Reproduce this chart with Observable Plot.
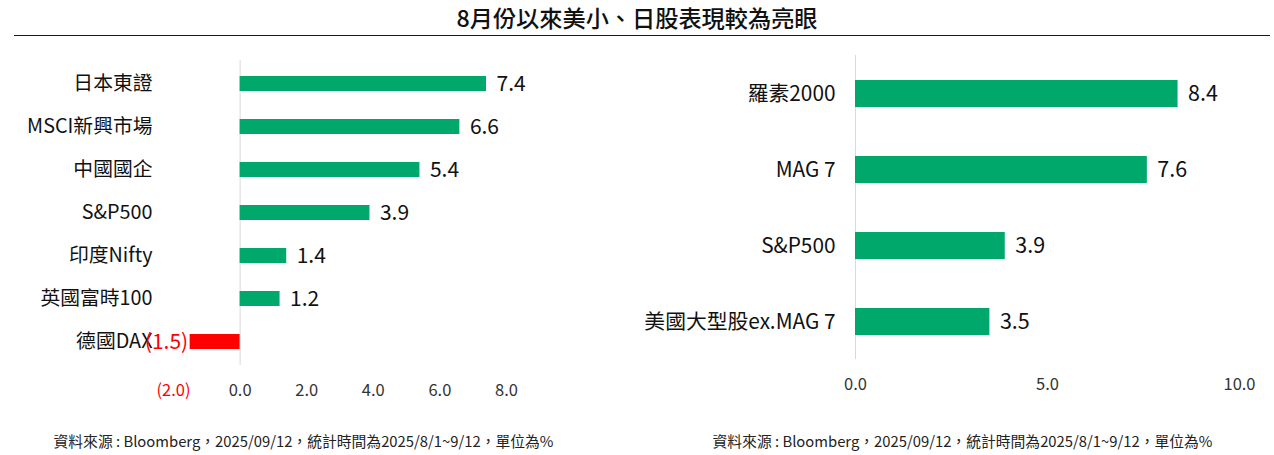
<!DOCTYPE html>
<html>
<head>
<meta charset="utf-8">
<script src="https://cdn.jsdelivr.net/npm/d3@7"></script>
<script src="https://cdn.jsdelivr.net/npm/@observablehq/plot@0.6"></script>
<style>
  html, body { margin: 0; padding: 0; background: #fff; }
  #page { position: relative; width: 1274px; height: 455px; overflow: hidden;
          font-family: "Noto Sans CJK TC", "Noto Sans", sans-serif; color: #262626; }
  #title { position: absolute; left: 0; width: 1274px; top: 2px; text-align: center;
           font-size: 23.2px; line-height: 30px; color: #111; font-weight: 500; }
  #rule { position: absolute; left: 14px; width: 1256px; top: 35px; height: 0;
          border-top: 1.3px solid #1a1a1a; }
  .chart { position: absolute; top: 40px; }
  .note { position: absolute; top: 431px; font-size: 14.8px; line-height: 20px;
          text-align: center; width: 637px; color: #222; white-space: nowrap; }
</style>
</head>
<body>
<div id="page">
  <div id="title">8月份以來美小、日股表現較為亮眼</div>
  <div id="rule"></div>
  <div id="left" class="chart" style="left:0px"></div>
  <div id="right" class="chart" style="left:637px"></div>
  <div class="note" style="left:-15px">資料來源 : Bloomberg，2025/09/12，統計時間為2025/8/1~9/12，單位為%</div>
  <div class="note" style="left:644px">資料來源 : Bloomberg，2025/09/12，統計時間為2025/8/1~9/12，單位為%</div>
</div>
<script>
// ---- data ----
const leftCategories = ["日本東證", "MSCI新興市場", "中國國企", "S&P500", "印度Nifty", "英國富時100", "德國DAX"];
const leftValues = [7.4, 6.6, 5.4, 3.9, 1.4, 1.2, -1.5];
const leftTicks = [-2, 0, 2, 4, 6, 8];
const leftDomain = [-2, 8];

const rightCategories = ["羅素2000", "MAG 7", "S&P500", "美國大型股ex.MAG 7"];
const rightValues = [8.4, 7.6, 3.9, 3.5];
const rightTicks = [0, 5, 10];
const rightDomain = [0, 10];

const GREEN = "#00a86b";
const RED = "#ff0000";
const TEXT = "#111111";
const FONT = "'Noto Sans CJK TC', 'Noto Sans', sans-serif";

const fmt = d => d < 0 ? `(${Math.abs(d).toFixed(1)})` : d.toFixed(1);

function makeChart(categories, values, ticks, domain, opts) {
  const data = categories.map((c, i) => ({ name: c, value: values[i] }));
  const pos = data.filter(d => d.value >= 0);
  const neg = data.filter(d => d.value < 0);
  const posTicks = ticks.filter(t => t >= 0);
  const negTicks = ticks.filter(t => t < 0);
  return Plot.plot({
    width: 637,
    height: 370,
    marginLeft: opts.marginLeft,
    marginRight: opts.marginRight,
    marginTop: opts.marginTop,
    marginBottom: opts.marginBottom,
    style: { fontFamily: FONT, color: TEXT, background: "transparent", overflow: "visible" },
    x: { domain: domain },
    y: { domain: categories, paddingInner: 0.65, paddingOuter: 0.325, align: 0.5 },
    marks: [
      Plot.ruleX([0], { stroke: "#d9d9d9", strokeWidth: 1 }),
      Plot.barX(pos, { x: "value", y: "name", fill: GREEN }),
      Plot.barX(neg, { x: "value", y: "name", fill: RED }),
      Plot.axisY({ tickSize: 0, tickPadding: opts.yPad, fontSize: opts.catSize, fill: TEXT, label: null }),
      Plot.axisX(posTicks, { tickSize: 0, tickPadding: 19, fontSize: 16.5, fill: "#333", tickFormat: fmt, label: null }),
      negTicks.length ? Plot.axisX(negTicks, { tickSize: 0, tickPadding: 19, fontSize: 16.5, fill: RED, tickFormat: fmt, label: null }) : null,
      Plot.text(pos, { x: "value", y: "name", text: d => fmt(d.value), textAnchor: "start", dx: 10, fontSize: opts.valSize, fill: TEXT }),
      Plot.text(neg, { x: "value", y: "name", text: d => fmt(d.value), textAnchor: "end", dx: -2, fontSize: opts.valSize, fill: RED })
    ]
  });
}

document.getElementById("left").append(
  makeChart(leftCategories, leftValues, leftTicks, leftDomain,
    { marginLeft: 173, marginRight: 131, marginTop: 20, marginBottom: 45, yPad: 21, catSize: 19.8, valSize: 21 })
);
document.getElementById("right").append(
  makeChart(rightCategories, rightValues, rightTicks, rightDomain,
    { marginLeft: 218, marginRight: 35, marginTop: 15, marginBottom: 51, yPad: 20, catSize: 20.8, valSize: 21.5 })
);
</script>
</body>
</html>
